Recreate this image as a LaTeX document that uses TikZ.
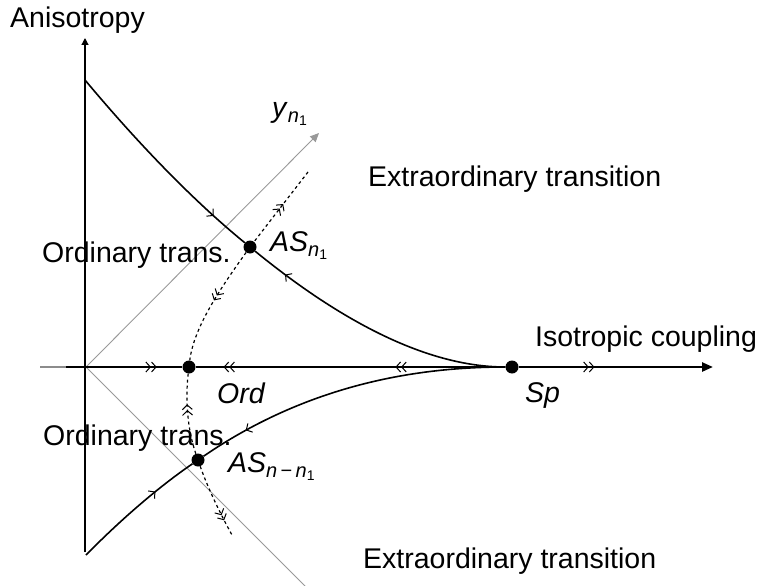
\documentclass[tikz,border=0pt]{standalone}
\usepackage{fontspec}
\setmainfont{Liberation Sans}
\usetikzlibrary{arrows.meta,decorations.markings}
\newcommand{\subA}[1]{\raisebox{-5.5pt}{\fontsize{20}{20}\selectfont #1}}
\newcommand{\subB}[1]{\raisebox{-3pt}{\fontsize{14}{14}\selectfont #1}}
\begin{document}
\begin{tikzpicture}[x=1pt,y=-1pt,
 lbl/.style={font=\fontsize{28.5}{34}\selectfont, inner sep=0pt, anchor=base west},
 dot/.style={circle, fill=black, inner sep=0pt, minimum size=13pt},
 curve/.style={line width=1.6pt},
 axis/.style={line width=1.2pt},
 guide/.style={draw=black!40, line width=0.9pt},
 dsh/.style={line width=1.2pt, dash pattern=on 3pt off 3pt},
 mk/.tip={Straight Barb[length=4.5pt,width=10pt,line width=1pt]},
 fw/.style={postaction={decorate,decoration={markings,mark=at position #1 with {\arrow{mk}}}}},
 bw/.style={postaction={decorate,decoration={markings,mark=at position #1 with {\arrowreversed{mk}}}}},
 fww/.style={postaction={decorate,decoration={markings,mark=at position #1 with {\arrow{mk[] mk[]}}}}},
 bww/.style={postaction={decorate,decoration={markings,mark=at position #1 with {\arrowreversed{mk[] mk[]}}}}},
]
\useasboundingbox (0,0) rectangle (763,586);
% coordinates
\coordinate (T1) at (85,80);
\coordinate (T2) at (86,555);
\coordinate (O) at (86,367);
\coordinate (L) at (40,367);
\coordinate (L2) at (66,367);
\coordinate (E) at (713,367);
\coordinate (Vb) at (85,552);
\coordinate (Vt) at (85,38);
\coordinate (G1) at (319,133);
\coordinate (G2) at (306,587);
\coordinate (D1) at (308,172);
\coordinate (D2) at (232,535);
% fixed points
\node[dot] (AS1) at (250,247) {};
\node[dot] (AS2) at (198,460) {};
\node[dot] (Ord) at (189,367) {};
\node[dot] (Sp) at (512,367) {};
% guide axes
\draw[guide,-{Triangle[length=9pt,width=8pt]}] (O) -- (G1);
\draw[guide] (O) -- (G2);
% axes
\draw[axis,-{Triangle[length=7pt,width=7pt]}] (Vb) -- (Vt);
\draw[axis,black!45] (L) -- (L2);
\draw[axis,fww=0.78] (L2) -- (Ord);
\draw[axis,bww=0.09,bww=0.645] (Ord) -- (Sp);
\draw[line width=2.4pt,fww=0.39,-{Triangle[length=11pt,width=9pt]}] (Sp) -- (E);
% separatrices
\draw[curve,fw=0.82] (T1) .. controls (140,145.8) and (195,202.1) .. (AS1);
\draw[curve,bw=0.135] (AS1) .. controls (337.3,318.3) and (424.7,367) .. (Sp);
\draw[curve,fw=0.67] (T2) .. controls (123.3,517.1) and (160.7,485.5) .. (AS2);
\draw[curve,bw=0.155] (AS2) .. controls (302.7,388.5) and (407.3,367) .. (Sp);
% dashed flow
\draw[dsh,bww=0.46] (D1) .. controls (288.7,197) and (269.3,222) .. (AS1);
\draw[dsh,fww=0.47] (AS1) .. controls (221.4,287) and (193.8,327) .. (Ord);
\draw[dsh,bww=0.38] (Ord) .. controls (185.3,398) and (187.2,429) .. (AS2);
\draw[dsh,fww=0.78] (AS2) .. controls (206.8,485) and (218.2,510) .. (D2);
% labels
\node[lbl] (tAn) at (10,28) {Anisotropy};
\node[lbl] (tY) at (272,117) {\textit{y}\subA{\textit{n}\subB{1}}};
\node[lbl] (tEx1) at (368,186) {Extraordinary transition};
\node[lbl] (tOr1) at (42,262) {Ordinary trans.};
\node[lbl] (tAS1) at (270,251) {\textit{AS}\subA{\textit{n}\subB{1}}};
\node[lbl] (tIso) at (535,346) {Isotropic coupling};
\node[lbl] (tOrd) at (217,403) {\textit{Ord}};
\node[lbl] (tSp) at (525,402) {\textit{Sp}};
\node[lbl] (tOr2) at (43,445) {Ordinary trans.};
\node[lbl] (tAS2) at (228,472) {\textit{AS}\subA{\textit{n}\,−\,\textit{n}\subB{1}}};
\node[lbl] (tEx2) at (363,568) {Extraordinary transition};
\end{tikzpicture}
\end{document}
